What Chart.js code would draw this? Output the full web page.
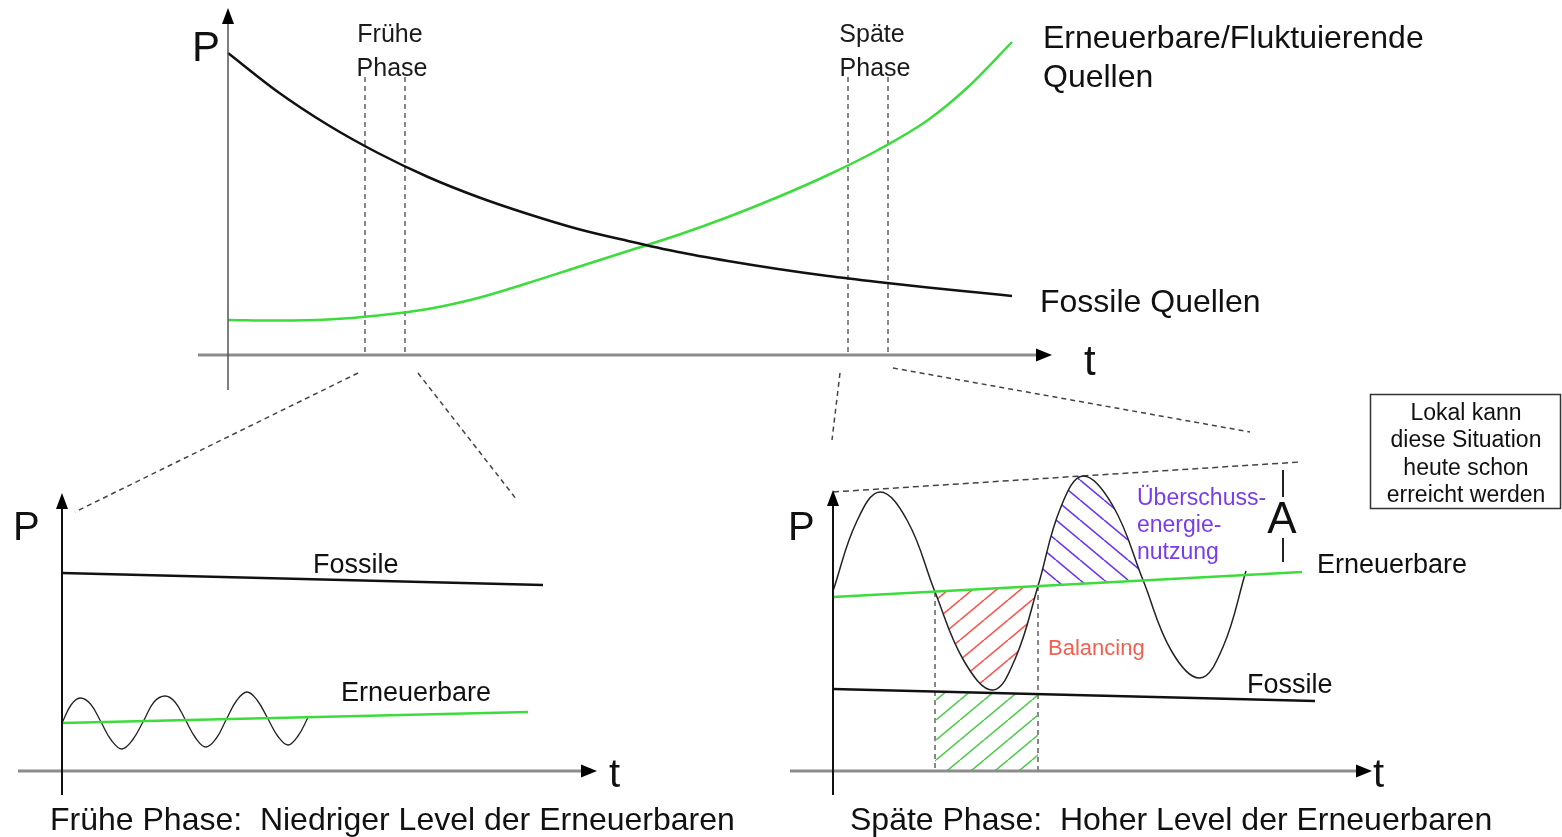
<!DOCTYPE html>
<html>
<head>
<meta charset="utf-8">
<script src="https://cdn.jsdelivr.net/npm/chart.js@4.4.1/dist/chart.umd.min.js"></script>
<style>
  body { margin: 0; background: #fff; }
  #wrap { position: relative; width: 1562px; height: 837px; }
  canvas { position: absolute; left: 0; top: 0; }
</style>
</head>
<body>
<div id="wrap">
  <canvas id="oben" width="1562" height="837"></canvas>
  <canvas id="frueh" width="1562" height="837"></canvas>
  <canvas id="spaet" width="1562" height="837"></canvas>
</div>
<script>
// ---- Gesamtverlauf (oben) ----
const obenFossilT = [0, 5, 10, 15, 20, 25, 30, 35, 40, 45, 50, 55, 60, 65, 70, 75, 78.4];
const obenFossilP = [30.2, 26.3, 23.0, 20.2, 17.8, 15.8, 14.1, 12.6, 11.4, 10.3, 9.4, 8.6, 7.9, 7.3, 6.75, 6.25, 5.9];
const obenErnT = [0, 5, 10, 15, 20, 25, 30, 35, 40, 45, 50, 55, 60, 65, 70, 74, 78.4];
const obenErnP = [3.5, 3.45, 3.55, 3.95, 4.6, 5.7, 7.2, 8.8, 10.4, 12.0, 13.8, 15.8, 18.0, 20.5, 23.5, 26.8, 31.3];
const phasenT = [13.7, 17.7, 62.0, 66.0];
const phasenOben = 27.8;

// ---- Frühe Phase (unten links) ----
const fruehFossilT = [0, 48.1];
const fruehFossilP = [19.8, 18.6];
const fruehErnT = [0, 46.6];
const fruehErnP = [4.8, 5.9];
const fruehSinusT = [0, 0.9, 1.8, 2.85, 3.9, 4.95, 6.0, 7.05, 8.15, 9.2, 10.3, 11.3, 12.35, 13.4, 14.4, 15.45, 16.45, 17.5, 18.5, 19.5, 20.55, 21.6, 22.6, 23.6, 24.6];
const fruehSinusP = [4.8, 6.6, 7.3, 6.7, 4.9, 3.05, 2.2, 3.1, 5.0, 6.9, 7.5, 6.9, 5.1, 3.25, 2.4, 3.3, 5.2, 7.1, 7.9, 7.1, 5.3, 3.45, 2.6, 3.5, 5.35];

// ---- Späte Phase (unten rechts) ----
const spaetFossilT = [0, 48.2];
const spaetFossilP = [8.2, 7.0];
const spaetErnT = [0, 46.9];
const spaetErnP = [17.4, 19.9];
const spaetSinusT = [0, 2.35, 4.7, 7.45, 10.2, 13.1, 16.0, 18.25, 20.5, 22.75, 25.0, 28.0, 31.0, 33.85, 36.7, 39.0, 41.3];
const spaetSinusP = [18.0, 24.9, 27.9, 25.0, 17.9, 11.0, 8.1, 11.3, 18.5, 26.3, 29.5, 26.5, 19.1, 12.0, 9.3, 12.4, 20.0];
const huelleT = [0, 46.7];
const huelleP = [27.9, 30.9];
const balancingT = [10.2, 13.1, 16.0, 18.25, 20.5];
const balancingP = [17.9, 11.0, 8.1, 11.3, 18.5];
const ueberschussT = [20.5, 22.75, 25.0, 28.0, 31.0];
const ueberschussP = [18.5, 26.3, 29.5, 26.5, 19.1];
const fossilAnteilT = [10.2, 20.5];
const fossilAnteilP = [7.95, 7.7];
const amplitudeT = 45.0;
const amplitudeOben = [30.1, 27.4];
const amplitudeUnten = [23.3, 20.9];

const W = 1562, H = 837;
const FONT = "'Liberation Sans', Arial, sans-serif";
const GRUEN = 'rgb(60, 220, 60)';

function pts(xs, ys) {
  return xs.map((x, i) => ({x: x, y: ys[i]}));
}

function schraffur(farbe, richtung) {
  var w = 24, h = 20;
  var c = document.createElement('canvas');
  c.width = w; c.height = h;
  var g = c.getContext('2d');
  g.strokeStyle = farbe;
  g.lineWidth = 1.6;
  g.beginPath();
  for (var k = -1; k <= 1; k++) {
    if (richtung > 0) { // "/"
      g.moveTo(k * w, h); g.lineTo(k * w + w, 0);
    } else { // "\"
      g.moveTo(k * w, 0); g.lineTo(k * w + w, h);
    }
  }
  g.stroke();
  return g.createPattern(c, 'repeat');
}

function strich(c, x1, y1, x2, y2, farbe, breite, dash) {
  c.save();
  c.strokeStyle = farbe;
  c.lineWidth = breite;
  c.setLineDash(dash || []);
  c.beginPath();
  c.moveTo(x1, y1);
  c.lineTo(x2, y2);
  c.stroke();
  c.restore();
}

function pfeil(c, x, y, dir) {
  c.save();
  c.fillStyle = '#000';
  c.beginPath();
  if (dir == 'r') {
    c.moveTo(x, y); c.lineTo(x - 16, y - 6.5); c.lineTo(x - 16, y + 6.5);
  } else {
    c.moveTo(x, y); c.lineTo(x - 6, y + 16); c.lineTo(x + 6, y + 16);
  }
  c.closePath();
  c.fill();
  c.restore();
}

function text(c, s, x, y, size, farbe, align) {
  c.save();
  c.font = size + 'px ' + FONT;
  c.fillStyle = farbe || '#111';
  c.textAlign = align || 'left';
  c.textBaseline = 'alphabetic';
  c.fillText(s, x, y);
  c.restore();
}

// Achsen mit Pfeilspitzen aus den Skalen
function achsen(chart, xVon, xBis, yVon, yBis, yFarbe, yBreite) {
  var c = chart.ctx, sx = chart.scales.x, sy = chart.scales.y;
  var x0 = sx.getPixelForValue(0), y0 = sy.getPixelForValue(0);
  strich(c, sx.getPixelForValue(xVon), y0, sx.getPixelForValue(xBis) - 10, y0, '#8c8c8c', 3);
  pfeil(c, sx.getPixelForValue(xBis), y0, 'r');
  strich(c, x0, sy.getPixelForValue(yVon), x0, sy.getPixelForValue(yBis) + 10, yFarbe, yBreite);
  pfeil(c, x0, sy.getPixelForValue(yBis), 'u');
}

function linie(daten, farbe, breite, extra) {
  return Object.assign({
    data: daten,
    borderColor: farbe,
    borderWidth: breite,
    pointRadius: 0,
    fill: false,
    clip: false
  }, extra || {});
}

function makeChart(id, bereich, xMax, yMax, datasets, deko) {
  return new Chart(document.getElementById(id), {
    type: 'line',
    data: { datasets: datasets },
    options: {
      responsive: false,
      animation: false,
      events: [],
      layout: {
        padding: { left: bereich[0], top: bereich[1], right: W - bereich[2], bottom: H - bereich[3] }
      },
      scales: {
        x: { type: 'linear', min: 0, max: xMax, display: false },
        y: { type: 'linear', min: 0, max: yMax, display: false }
      },
      plugins: { legend: { display: false }, tooltip: { enabled: false } }
    },
    plugins: [{ id: 'deko_' + id, afterDraw: deko }]
  });
}

var gestrichelt = { borderDash: [5, 4] };

// ---- oben ----
var obenSets = [
  linie(pts(obenFossilT, obenFossilP), '#111', 2.5, { cubicInterpolationMode: 'monotone' }),
  linie(pts(obenErnT, obenErnP), GRUEN, 2.5, { cubicInterpolationMode: 'monotone' })
];
phasenT.forEach(function(t) {
  obenSets.push(linie(pts([t, t], [phasenOben, 0]), '#555', 1.4, gestrichelt));
});

var oben = makeChart('oben', [228, 8, 1052, 355], 82.4, 34.7, obenSets, function(chart) {
  var c = chart.ctx;
  achsen(chart, -3.0, 82.4, -3.5, 34.7, '#555', 1.5);
  text(c, 'P', 192, 61, 42);
  text(c, 't', 1084, 375, 42);
  text(c, 'Frühe', 390, 42, 25, '#1a1a1a', 'center');
  text(c, 'Phase', 392, 76, 25, '#1a1a1a', 'center');
  text(c, 'Späte', 872, 42, 25, '#1a1a1a', 'center');
  text(c, 'Phase', 875, 76, 25, '#1a1a1a', 'center');
  text(c, 'Erneuerbare/Fluktuierende', 1043, 48, 32);
  text(c, 'Quellen', 1043, 87, 32);
  text(c, 'Fossile Quellen', 1040, 312, 32);
  // Zoom-Hilfslinien
  strich(c, 358, 373, 75, 512, '#444', 1.5, [5, 4]);
  strich(c, 418, 373, 517, 500, '#444', 1.5, [5, 4]);
  strich(c, 840, 373, 832, 440, '#444', 1.5, [5, 4]);
  strich(c, 893, 368, 1250, 432, '#444', 1.5, [5, 4]);
});

// ---- frühe Phase ----
var frueh = makeChart('frueh', [62, 493, 597, 771], 53.5, 27.8, [
  linie(pts(fruehFossilT, fruehFossilP), '#111', 2.5),
  linie(pts(fruehErnT, fruehErnP), GRUEN, 2.5),
  linie(pts(fruehSinusT, fruehSinusP), '#222', 1.3, { tension: 0.4 })
], function(chart) {
  var c = chart.ctx;
  achsen(chart, -4.4, 53.5, -2.4, 27.8, '#111', 2);
  text(c, 'P', 13, 540, 40);
  text(c, 't', 609, 787, 40);
  text(c, 'Fossile', 313, 573, 27);
  text(c, 'Erneuerbare', 341, 701, 27);
  text(c, 'Frühe Phase:  Niedriger Level der Erneuerbaren', 50, 830, 32);
});

// ---- späte Phase ----
var rotMuster = schraffur('rgb(255, 85, 80)', 1);
var blauMuster = schraffur('rgb(105, 55, 240)', -1);
var gruenMuster = schraffur('rgb(80, 205, 80)', 1);
var ohneRand = { borderColor: 'rgba(0,0,0,0)', borderWidth: 0, tension: 0.4 };

var spaet = makeChart('spaet', [833, 440, 1372, 771], 53.9, 33.1, [
  linie(pts(spaetFossilT, spaetFossilP), '#111', 2.5),
  linie(pts(spaetErnT, spaetErnP), GRUEN, 2.5),
  linie(pts(spaetSinusT, spaetSinusP), '#222', 1.5, { tension: 0.4 }),
  linie(pts(huelleT, huelleP), '#444', 1.5, { borderDash: [6, 4] }),
  linie(pts(balancingT, balancingP), 'rgba(0,0,0,0)', 0, Object.assign({}, ohneRand, { fill: 1, backgroundColor: rotMuster })),
  linie(pts(ueberschussT, ueberschussP), 'rgba(0,0,0,0)', 0, Object.assign({}, ohneRand, { fill: 1, backgroundColor: blauMuster })),
  linie(pts(fossilAnteilT, fossilAnteilP), 'rgba(0,0,0,0)', 0, { borderWidth: 0, fill: 'origin', backgroundColor: gruenMuster }),
  linie(pts([balancingT[0], balancingT[0]], [balancingP[0], 0]), '#555', 1.4, gestrichelt),
  linie(pts([ueberschussT[0], ueberschussT[0]], [ueberschussP[0], 0]), '#555', 1.4, gestrichelt),
  linie(pts([amplitudeT, amplitudeT], amplitudeOben), '#222', 2),
  linie(pts([amplitudeT, amplitudeT], amplitudeUnten), '#222', 2)
], function(chart) {
  var c = chart.ctx;
  achsen(chart, -4.3, 53.9, -2.4, 28.1, '#111', 2);
  text(c, 'P', 788, 540, 40);
  text(c, 't', 1373, 787, 40);
  text(c, 'Erneuerbare', 1317, 573, 27);
  text(c, 'Fossile', 1247, 693, 27);
  text(c, 'Überschuss-', 1137, 505, 23, 'rgb(120, 60, 240)');
  text(c, 'energie-', 1137, 532, 23, 'rgb(120, 60, 240)');
  text(c, 'nutzung', 1137, 559, 23, 'rgb(120, 60, 240)');
  text(c, 'Balancing', 1048, 655, 22, 'rgb(240, 95, 80)');
  text(c, 'A', 1282, 533, 44, '#111', 'center');
  // Hinweiskasten
  c.save();
  c.strokeStyle = '#333';
  c.lineWidth = 1.5;
  c.strokeRect(1370.5, 394.5, 190, 114);
  c.restore();
  text(c, 'Lokal kann', 1466, 420, 23, '#111', 'center');
  text(c, 'diese Situation', 1466, 447, 23, '#111', 'center');
  text(c, 'heute schon', 1466, 475, 23, '#111', 'center');
  text(c, 'erreicht werden', 1466, 502, 23, '#111', 'center');
  text(c, 'Späte Phase:  Hoher Level der Erneuerbaren', 850, 830, 32);
});
</script>
</body>
</html>
